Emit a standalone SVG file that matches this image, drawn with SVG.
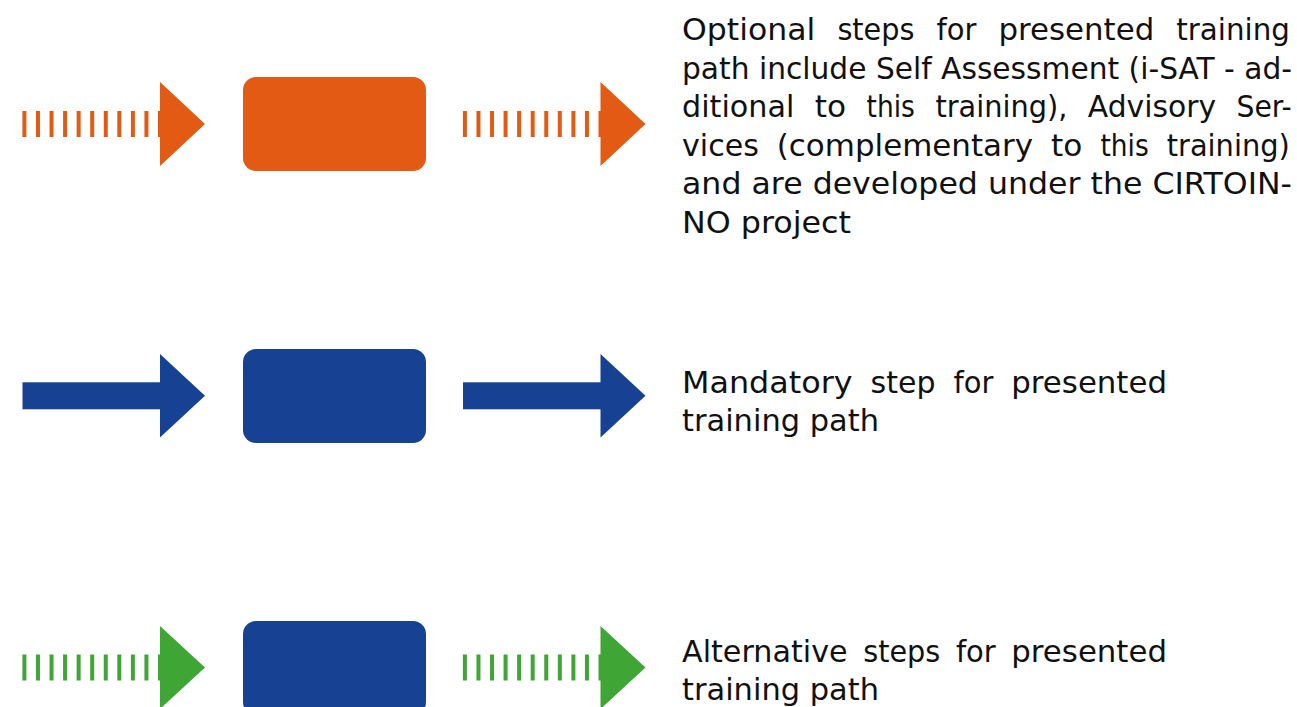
<svg xmlns="http://www.w3.org/2000/svg" width="1297" height="707" viewBox="0 0 1297 707">
<style>
.t{font-family:"DejaVu Sans","Liberation Sans",sans-serif;font-size:30px;fill:#111111}
.or{fill:#E25A13}.bl{fill:#174193}.gr{fill:#3FA535}
.dash{stroke-width:26;stroke-dasharray:4 9.56;fill:none}
</style>
<rect width="1297" height="707" fill="#ffffff"/>
<g id="connectors">
  <g id="arrow-optional-in">
    <line class="dash" x1="22.4" y1="124" x2="161" y2="124" stroke="#E25A13"/>
    <polygon class="or" points="160,82 205,124 160,166"/>
  </g>
  <g id="arrow-optional-out">
    <line class="dash" x1="462.9" y1="124" x2="601.5" y2="124" stroke="#E25A13"/>
    <polygon class="or" points="600.5,82 645.5,124 600.5,166"/>
  </g>
  <g id="arrow-mandatory-in">
    <rect class="bl" x="22.5" y="382.3" width="138.5" height="27"/>
    <polygon class="bl" points="160,354 205,395.8 160,437.5"/>
  </g>
  <g id="arrow-mandatory-out">
    <rect class="bl" x="463" y="382.3" width="138.5" height="27"/>
    <polygon class="bl" points="600.5,354 645.5,395.8 600.5,437.5"/>
  </g>
  <g id="arrow-alternative-in">
    <line class="dash" x1="22.4" y1="667.5" x2="161" y2="667.5" stroke="#3FA535"/>
    <polygon class="gr" points="160,626 205,667.5 160,709"/>
  </g>
  <g id="arrow-alternative-out">
    <line class="dash" x1="462.9" y1="667.5" x2="601.5" y2="667.5" stroke="#3FA535"/>
    <polygon class="gr" points="600.5,626 645.5,667.5 600.5,709"/>
  </g>
</g>
<g id="node-optional">
  <rect class="or" x="243" y="77" width="183" height="94" rx="13"/>
</g>
<g id="node-mandatory">
  <rect class="bl" x="243" y="349" width="183" height="94" rx="13"/>
</g>
<g id="node-alternative">
  <rect class="bl" x="243" y="621" width="183" height="94" rx="13"/>
</g>
<g id="label-optional">
  <text class="t">
    <tspan x="682" y="40" textLength="133.3" lengthAdjust="spacingAndGlyphs">Optional</tspan> <tspan x="837.4" y="40" textLength="77.1" lengthAdjust="spacingAndGlyphs">steps</tspan> <tspan x="936.6" y="40" textLength="39.8" lengthAdjust="spacingAndGlyphs">for</tspan> <tspan x="998.5" y="40" textLength="155.7" lengthAdjust="spacingAndGlyphs">presented</tspan> <tspan x="1176.3" y="40" textLength="113.7" lengthAdjust="spacingAndGlyphs">training</tspan>
    <tspan x="682" y="78.5" textLength="610" lengthAdjust="spacingAndGlyphs">path include Self Assessment (i-SAT - ad-</tspan>
    <tspan x="682" y="117" textLength="112.3" lengthAdjust="spacingAndGlyphs">ditional</tspan> <tspan x="814.8" y="117" textLength="31.3" lengthAdjust="spacingAndGlyphs">to</tspan> <tspan x="866.6" y="117" textLength="48.3" lengthAdjust="spacingAndGlyphs">this</tspan> <tspan x="935.4" y="117" textLength="131.9" lengthAdjust="spacingAndGlyphs">training),</tspan> <tspan x="1087.8" y="117" textLength="128.2" lengthAdjust="spacingAndGlyphs">Advisory</tspan> <tspan x="1236.5" y="117" textLength="55.3" lengthAdjust="spacingAndGlyphs">Ser-</tspan>
    <tspan x="682" y="155.5" textLength="76.8" lengthAdjust="spacingAndGlyphs">vices</tspan> <tspan x="776.8" y="155.5" textLength="256.3" lengthAdjust="spacingAndGlyphs">(complementary</tspan> <tspan x="1051.1" y="155.5" textLength="31.3" lengthAdjust="spacingAndGlyphs">to</tspan> <tspan x="1100.4" y="155.5" textLength="48.3" lengthAdjust="spacingAndGlyphs">this</tspan> <tspan x="1166.7" y="155.5" textLength="123.2" lengthAdjust="spacingAndGlyphs">training)</tspan>
    <tspan x="682" y="194" textLength="610" lengthAdjust="spacingAndGlyphs">and are developed under the CIRTOIN-</tspan>
    <tspan x="682" y="232.5" textLength="169" lengthAdjust="spacingAndGlyphs">NO project</tspan>
  </text>
</g>
<g id="label-mandatory">
  <text class="t">
    <tspan x="682" y="392.5" textLength="170.6" lengthAdjust="spacingAndGlyphs">Mandatory</tspan> <tspan x="870.6" y="392.5" textLength="64.9" lengthAdjust="spacingAndGlyphs">step</tspan> <tspan x="953.5" y="392.5" textLength="39.8" lengthAdjust="spacingAndGlyphs">for</tspan> <tspan x="1011.3" y="392.5" textLength="155.7" lengthAdjust="spacingAndGlyphs">presented</tspan>
    <tspan x="682" y="431" textLength="197" lengthAdjust="spacingAndGlyphs">training path</tspan>
  </text>
</g>
<g id="label-alternative">
  <text class="t">
    <tspan x="682" y="661.5" textLength="165.6" lengthAdjust="spacingAndGlyphs">Alternative</tspan> <tspan x="863.2" y="661.5" textLength="77.1" lengthAdjust="spacingAndGlyphs">steps</tspan> <tspan x="955.9" y="661.5" textLength="39.8" lengthAdjust="spacingAndGlyphs">for</tspan> <tspan x="1011.3" y="661.5" textLength="155.7" lengthAdjust="spacingAndGlyphs">presented</tspan>
    <tspan x="682" y="700" textLength="197" lengthAdjust="spacingAndGlyphs">training path</tspan>
  </text>
</g>
</svg>
